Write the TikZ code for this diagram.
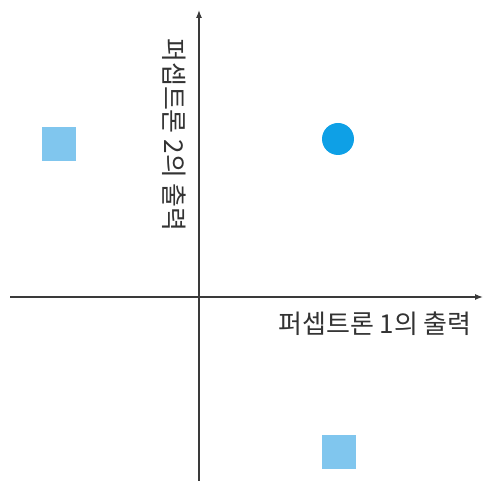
\documentclass[tikz,border=0pt]{standalone}
\usepackage{fontspec}
\newfontfamily\kr{Noto Sans CJK KR}
\usetikzlibrary{arrows.meta}
\definecolor{axisgray}{HTML}{3A3A3A}
\definecolor{txtgray}{HTML}{333333}
\definecolor{sqblue}{HTML}{80C6EE}
\definecolor{dotblue}{HTML}{0EA0E6}
\tikzset{
  axis/.style={draw=axisgray,line width=1.3pt,-{Latex[length=8pt,width=6pt]}},
  sq/.style={rectangle,fill=sqblue,minimum size=34pt,inner sep=0pt},
  dot/.style={circle,fill=dotblue,minimum size=32pt,inner sep=0pt},
  lbl/.style={text=txtgray,font=\kr\fontsize{26}{30}\selectfont,inner sep=0pt}
}
\begin{document}
\begin{tikzpicture}[x=1pt,y=-1pt]
\useasboundingbox (0,0) rectangle (483,481);
\coordinate (xs) at (10,297);
\coordinate (xe) at (483,297);
\coordinate (ys) at (199,481);
\coordinate (ye) at (199,10);
\draw[axis] (xs) -- (xe);
\draw[axis] (ys) -- (ye);
\node[sq] (s1) at (59,144) {};
\node[dot] (c1) at (338,139) {};
\node[sq] (s2) at (339,452) {};
\node[lbl] (lx) at (375,324) {퍼셉트론 1의 출력};
\node[lbl,rotate=-90] (ly) at (174,135) {퍼셉트론 2의 출력};
\end{tikzpicture}
\end{document}
